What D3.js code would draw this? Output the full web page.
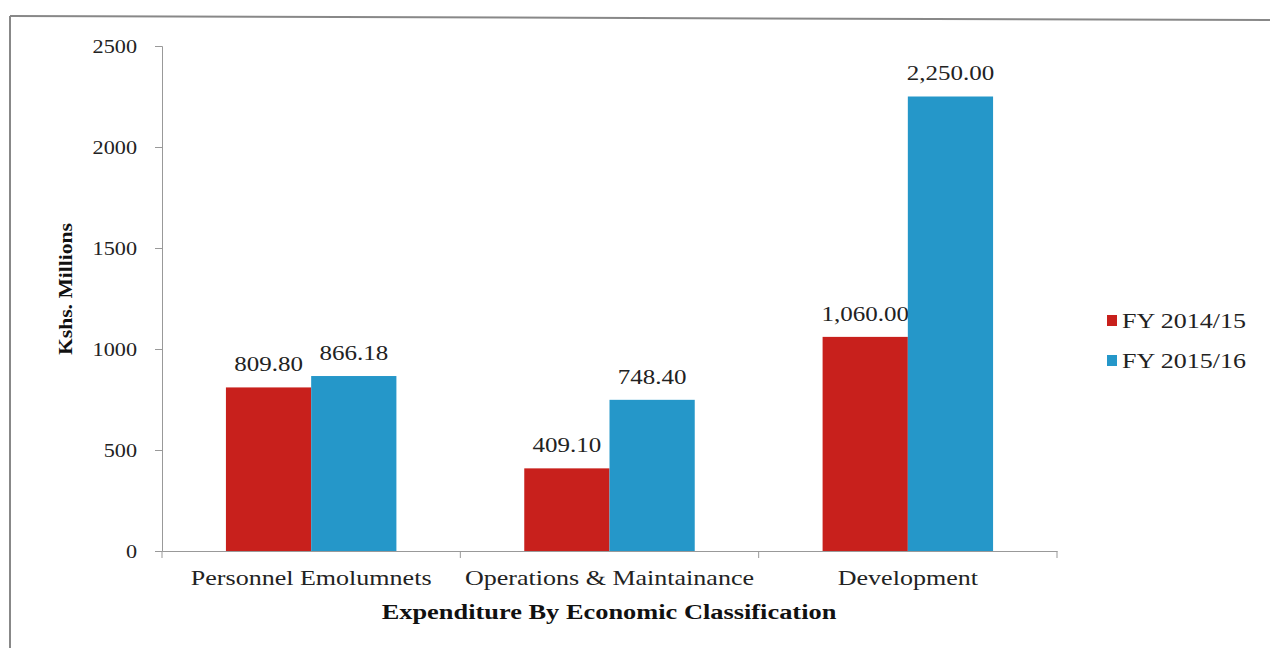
<!DOCTYPE html>
<html><head><meta charset="utf-8">
<script src="https://cdn.jsdelivr.net/npm/d3@7"></script>
<style>body{margin:0;background:#fff}svg{display:block}</style>
</head><body>
<script>
const categories = ["Personnel Emolumnets", "Operations & Maintainance", "Development"];
const seriesNames = ["FY 2014/15", "FY 2015/16"];
const fy1415 = [809.80, 409.10, 1060.00];
const fy1516 = [866.18, 748.40, 2250.00];
const yTicks = [0, 500, 1000, 1500, 2000, 2500];
const labels1415 = ["809.80", "409.10", "1,060.00"];
const labels1516 = ["866.18", "748.40", "2,250.00"];

(function () {
const W = 1270, H = 648;
const colors = ["#C8201C", "#2597C9"];
const font = "'Liberation Serif','Times New Roman',serif";
const svg = d3.select("body").append("svg").attr("width", W).attr("height", H);

// horizontally stretch text (reference type is wide)
function stretch(sel, sx, pre) {
  sel.each(function () {
    const t = d3.select(this);
    const xv = +t.attr("x") || 0;
    t.attr("x", xv / sx).attr("transform", (pre || "") + `scale(${sx},1)`);
  });
}

// frame
svg.append("line").attr("x1", 10).attr("y1", 16).attr("x2", 1270).attr("y2", 20).attr("stroke", "#888").attr("stroke-width", 2);
svg.append("line").attr("x1", 10).attr("y1", 16).attr("x2", 10).attr("y2", 648).attr("stroke", "#888").attr("stroke-width", 2);

const mLeft = 162, mRight = 1057, mTop = 46, mBottom = 551;
const x = d3.scaleBand().domain(categories).range([mLeft, mRight]).paddingInner(0).paddingOuter(0);
const inner = d3.scaleBand().domain(seriesNames).range([0, x.bandwidth()]).paddingOuter(0.75).paddingInner(0);
const y = d3.scaleLinear().domain([0, 2500]).range([mBottom, mTop]);

// y axis
const ya = svg.append("g").attr("transform", `translate(${mLeft},0)`)
  .call(d3.axisLeft(y).tickValues(yTicks).tickSize(7).tickPadding(18).tickFormat(d3.format("d")));
ya.select(".domain").attr("stroke", "#999");
ya.selectAll(".tick line").attr("stroke", "#999");
ya.selectAll("text").attr("font-family", font).attr("font-size", 19).attr("fill", "#222");
stretch(ya.selectAll("text"), 1.17);

// x axis
const xa = svg.append("g").attr("transform", `translate(0,${mBottom})`)
  .call(d3.axisBottom(x).tickSize(0).tickPadding(19));
xa.select(".domain").attr("stroke", "#999");
xa.selectAll("text").attr("font-family", font).attr("font-size", 21).attr("fill", "#222");
stretch(xa.selectAll("text"), 1.24);
const bounds = categories.map(c => x(c)).concat([mRight]);
svg.append("g").selectAll("line").data(bounds).join("line")
  .attr("x1", d => d).attr("x2", d => d).attr("y1", mBottom).attr("y2", mBottom + 7)
  .attr("stroke", "#999");

const series = [fy1415, fy1516];
const lbls = [labels1415, labels1516];
series.forEach((vals, si) => {
  const g = svg.append("g");
  g.selectAll("rect").data(vals).join("rect")
    .attr("x", (d, i) => x(categories[i]) + inner(seriesNames[si]))
    .attr("width", inner.bandwidth())
    .attr("y", d => y(d))
    .attr("height", d => mBottom - y(d))
    .attr("fill", colors[si]);
  const tx = g.selectAll("text").data(vals).join("text")
    .attr("x", (d, i) => x(categories[i]) + inner(seriesNames[si]) + inner.bandwidth() / 2)
    .attr("y", d => y(d) - 16)
    .attr("text-anchor", "middle")
    .attr("font-family", font).attr("font-size", 20).attr("fill", "#222")
    .text((d, i) => lbls[si][i]);
  stretch(tx, 1.25);
});

const yt = svg.append("text").attr("x", 0).attr("y", 0)
  .attr("text-anchor", "middle").attr("font-family", font).attr("font-weight", "bold")
  .attr("font-size", 18).attr("fill", "#111").text("Kshs. Millions");
stretch(yt, 1.2, `translate(72,289) rotate(-90) `);

const xt = svg.append("text").attr("x", 609).attr("y", 619).attr("text-anchor", "middle")
  .attr("font-family", font).attr("font-weight", "bold").attr("font-size", 20).attr("fill", "#111")
  .text("Expenditure By Economic Classification");
stretch(xt, 1.32);

const lg = svg.append("g").selectAll("g").data(seriesNames).join("g")
  .attr("transform", (d, i) => `translate(1107,${321 + i * 40})`);
lg.append("rect").attr("x", 0).attr("y", -6).attr("width", 10).attr("height", 11).attr("fill", (d, i) => colors[i]);
const lt = lg.append("text").attr("x", 15).attr("y", 7).attr("font-family", font).attr("font-size", 20).attr("fill", "#222").text(d => d);
stretch(lt, 1.3);
})();
</script>
</body></html>
